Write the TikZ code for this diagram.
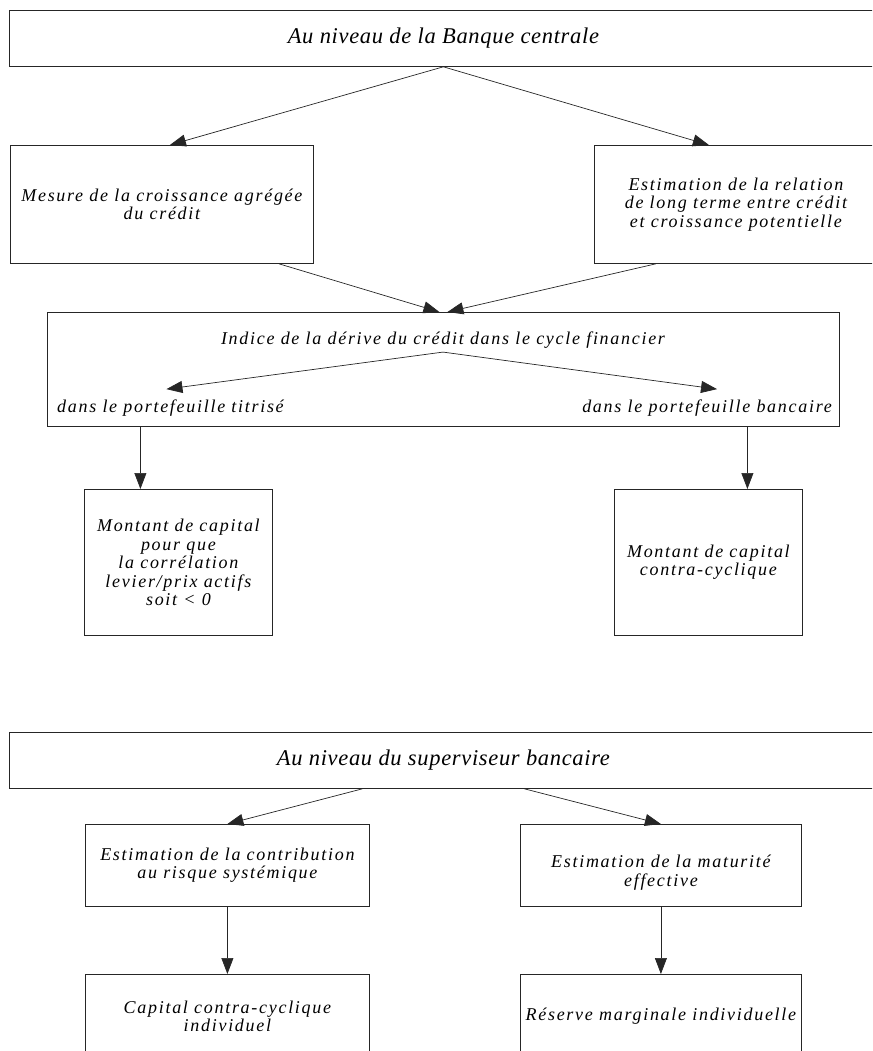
\documentclass[tikz,border=0pt]{standalone}
\usepackage{fontspec}
\setmainfont{Liberation Serif}
\newfontfamily\textecase{Liberation Serif}[LetterSpace=9.5]
\newfontfamily\textetitre{Liberation Serif}[LetterSpace=3]
\usetikzlibrary{arrows.meta}
\tikzset{
    boite/.style={
        draw=black!85, line width=0.8pt, rectangle, anchor=north west,
        align=center, inner sep=2pt,
        font=\textecase\fontsize{18}{18.5}\selectfont\itshape
    },
    titre/.style={
        boite, minimum width=868, minimum height=56,
        font=\textetitre\fontsize{22.5}{24}\selectfont\itshape
    },
    etiq/.style={
        inner xsep=0pt, inner ysep=10pt,
        font=\textecase\fontsize{18}{18.5}\selectfont\itshape
    },
    fleche/.style={
        draw=black!85, line width=0.7pt,
        -{Triangle[length=16pt, width=12pt]}
    }
}

\begin{document}
\begin{tikzpicture}[x=1pt, y=-1pt]

	\path[use as bounding box, clip] (0,0) rectangle (872,1051);

	\def\hbas{84}

		\node[ titre ] (banque) at (9,10) {Au niveau de la Banque centrale};

		\node[ boite, minimum width=303, minimum height=118 ] (mesure) at (10,145) {Mesure de la croissance agrégée\\ du crédit};
		\node[ boite, minimum width=283, minimum height=118 ] (relation) at (594,145) {Estimation de la relation\\ de long terme entre crédit\\ et croissance potentielle};

		\draw[ fleche ] (banque.south) -- ([xshift=8pt]mesure.north);
		\draw[ fleche ] (banque.south) -- ([xshift=-27pt]relation.north);

		\node[ boite, minimum width=792, minimum height=114 ] (indice) at (47,312) {};
		\node[ etiq, inner ysep=4pt, anchor=base ] (derive) at (443,344) {Indice de la dérive du crédit dans le cycle financier};
		\node[ etiq, anchor=base west ] (titrise) at (57,412) {dans le portefeuille titrisé};
		\node[ etiq, anchor=base east ] (bancaire) at (832,412) {dans le portefeuille bancaire};

		\draw[ fleche ] ([xshift=117pt]mesure.south) -- ([xshift=-4pt]indice.north);
		\draw[ fleche ] ([xshift=-80pt]relation.south) -- ([xshift=4pt]indice.north);
		\draw[ fleche ] (derive.south) -- ([xshift=-4pt]titrise.north);
		\draw[ fleche ] (derive.south) -- ([xshift=10pt]bancaire.north);

		\node[ boite, minimum width=188, minimum height=146 ] (capcorr) at (84,489) {Montant de capital\\ pour que\\ la corrélation\\ levier/prix actifs\\ soit < 0};
		\node[ boite, minimum width=188, minimum height=146 ] (capcontra) at (614,489) {Montant de capital\\ contra-cyclique};

		\coordinate (fg) at ([xshift=-38pt]capcorr.north);
		\coordinate (fd) at ([xshift=39pt]capcontra.north);
		\draw[ fleche ] (fg |- indice.south) -- (fg);
		\draw[ fleche ] (fd |- indice.south) -- (fd);

		\node[ titre ] (superviseur) at (9,732) {Au niveau du superviseur bancaire};

		\node[ boite, minimum width=284, minimum height=82 ] (contrib) at (85,824) {Estimation de la contribution\\ au risque systémique};
		\node[ boite, minimum width=281, minimum height=82, text height=46pt ] (maturite) at (520,824) {Estimation de la maturité\\ effective};

		\draw[ fleche ] ([xshift=-81pt]superviseur.south) -- (contrib.north);
		\draw[ fleche ] ([xshift=81pt]superviseur.south) -- (maturite.north);

		\node[ boite, minimum width=284, minimum height=\hbas ] (capind) at (85,974) {Capital contra-cyclique\\ individuel};
		\node[ boite, minimum width=281, minimum height=\hbas ] (reserve) at (520,974) {Réserve marginale individuelle};

		\draw[ fleche ] (contrib.south) -- (capind.north);
		\draw[ fleche ] (maturite.south) -- (reserve.north);

\end{tikzpicture}
\end{document}
